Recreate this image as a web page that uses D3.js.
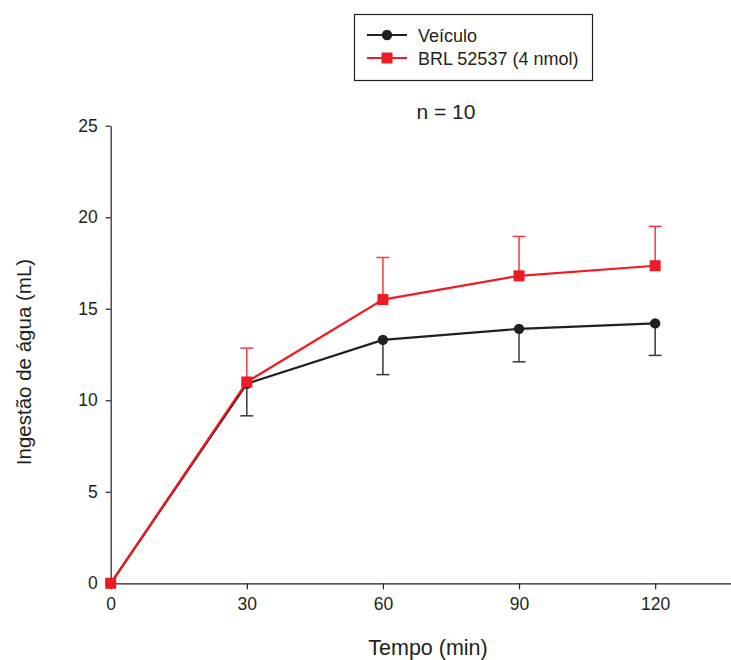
<!DOCTYPE html>
<html>
<head>
<meta charset="utf-8">
<script src="https://cdn.jsdelivr.net/npm/d3@7"></script>
<style>
  html, body { margin: 0; padding: 0; background: #fff; }
  svg { display: block; font-family: "Liberation Sans", Arial, sans-serif; }
</style>
</head>
<body>
<svg id="chart" width="731" height="660"></svg>
<script>
// Cumulative water intake (mL) over time, mean with SEM
const times = [0, 30, 60, 90, 120];
const vehicleMean = [0, 10.9, 13.3, 13.9, 14.2];
const vehicleLow = [0, 9.15, 11.4, 12.1, 12.45];
const brlMean = [0, 11.0, 15.5, 16.8, 17.35];
const brlHigh = [0, 12.85, 17.8, 18.95, 19.5];
const xTicks = [0, 30, 60, 90, 120];
const yTicks = [0, 5, 10, 15, 20, 25];
const seriesNames = ["Veículo", "BRL 52537 (4 nmol)"];

const BLACK = "#231f20";
const RED = "#ed1c24";

const svg = d3.select("#chart");

const x = d3.scaleLinear().domain([0, 140]).range([110.7, 745.9]);
const y = d3.scaleLinear().domain([0, 25]).range([583.3, 125.7]);

// Axes
const xAxis = svg.append("g")
  .attr("transform", `translate(0,${y(0)})`)
  .call(d3.axisBottom(x).tickValues(xTicks).tickSize(6).tickSizeOuter(0).tickPadding(8));
const yAxis = svg.append("g")
  .attr("transform", `translate(${x(0)},0)`)
  .call(d3.axisLeft(y).tickValues(yTicks).tickSize(5).tickSizeOuter(0).tickPadding(8));

[xAxis, yAxis].forEach(g => {
  g.select(".domain").attr("stroke", BLACK).attr("stroke-width", 1.2);
  g.selectAll(".tick line").attr("stroke", BLACK).attr("stroke-width", 1.2);
  g.selectAll(".tick text")
    .attr("fill", BLACK)
    .style("font-family", "'Liberation Sans', Arial, sans-serif")
    .style("font-size", "17.5px");
});

// Axis titles
svg.append("text")
  .attr("x", 428).attr("y", 655)
  .attr("text-anchor", "middle")
  .attr("fill", BLACK)
  .style("font-size", "21.5px")
  .text("Tempo (min)");

svg.append("text")
  .attr("transform", `translate(31,${362}) rotate(-90)`)
  .attr("text-anchor", "middle")
  .attr("fill", BLACK)
  .style("font-size", "20.5px")
  .text("Ingestão de água (mL)");

svg.append("text")
  .attr("x", 446).attr("y", 119)
  .attr("text-anchor", "middle")
  .attr("fill", BLACK)
  .style("font-size", "21px")
  .text("n = 10");

const line = d3.line().x((d, i) => x(times[i])).y(d => y(d));
const capHalf = 6.5;

// Error bars
function errorBars(means, ends, color) {
  const g = svg.append("g");
  times.forEach((t, i) => {
    if (i === 0) return;
    g.append("line")
      .attr("x1", x(t)).attr("x2", x(t))
      .attr("y1", y(means[i])).attr("y2", y(ends[i]))
      .attr("stroke", color).attr("stroke-width", 1.5);
    g.append("line")
      .attr("x1", x(t) - capHalf).attr("x2", x(t) + capHalf)
      .attr("y1", y(ends[i])).attr("y2", y(ends[i]))
      .attr("stroke", color).attr("stroke-width", 1.5);
  });
}

errorBars(vehicleMean, vehicleLow, "#3a3a3a");
errorBars(brlMean, brlHigh, "#ef3b43");

// Vehicle series
svg.append("path")
  .datum(vehicleMean)
  .attr("d", line)
  .attr("fill", "none")
  .attr("stroke", BLACK)
  .attr("stroke-width", 2.2);
svg.append("g").selectAll("circle")
  .data(vehicleMean)
  .join("circle")
  .attr("cx", (d, i) => x(times[i]))
  .attr("cy", d => y(d))
  .attr("r", 5.2)
  .attr("fill", BLACK);

// BRL 52537 series
svg.append("path")
  .datum(brlMean)
  .attr("d", line)
  .attr("fill", "none")
  .attr("stroke", RED)
  .attr("stroke-width", 2.2);
const sq = 11;
svg.append("g").selectAll("rect")
  .data(brlMean)
  .join("rect")
  .attr("x", (d, i) => x(times[i]) - sq / 2)
  .attr("y", d => y(d) - sq / 2)
  .attr("width", sq).attr("height", sq)
  .attr("fill", RED);

// Legend
const legend = svg.append("g");
legend.append("rect")
  .attr("x", 354.5).attr("y", 14.5)
  .attr("width", 238).attr("height", 66)
  .attr("fill", "#fff")
  .attr("stroke", BLACK).attr("stroke-width", 1.2);

const legendRows = [
  { name: seriesNames[0], color: BLACK, shape: "circle", yPos: 35 },
  { name: seriesNames[1], color: RED, shape: "square", yPos: 58 }
];
legendRows.forEach(r => {
  legend.append("line")
    .attr("x1", 367).attr("x2", 407)
    .attr("y1", r.yPos).attr("y2", r.yPos)
    .attr("stroke", r.color).attr("stroke-width", 2.2);
  if (r.shape === "circle") {
    legend.append("circle").attr("cx", 387).attr("cy", r.yPos).attr("r", 5.2).attr("fill", r.color);
  } else {
    legend.append("rect").attr("x", 387 - sq / 2).attr("y", r.yPos - sq / 2)
      .attr("width", sq).attr("height", sq).attr("fill", r.color);
  }
  legend.append("text")
    .attr("x", 418).attr("y", r.yPos + 6.5)
    .attr("fill", BLACK)
    .style("font-size", "18px")
    .text(r.name);
});
</script>
</body>
</html>
